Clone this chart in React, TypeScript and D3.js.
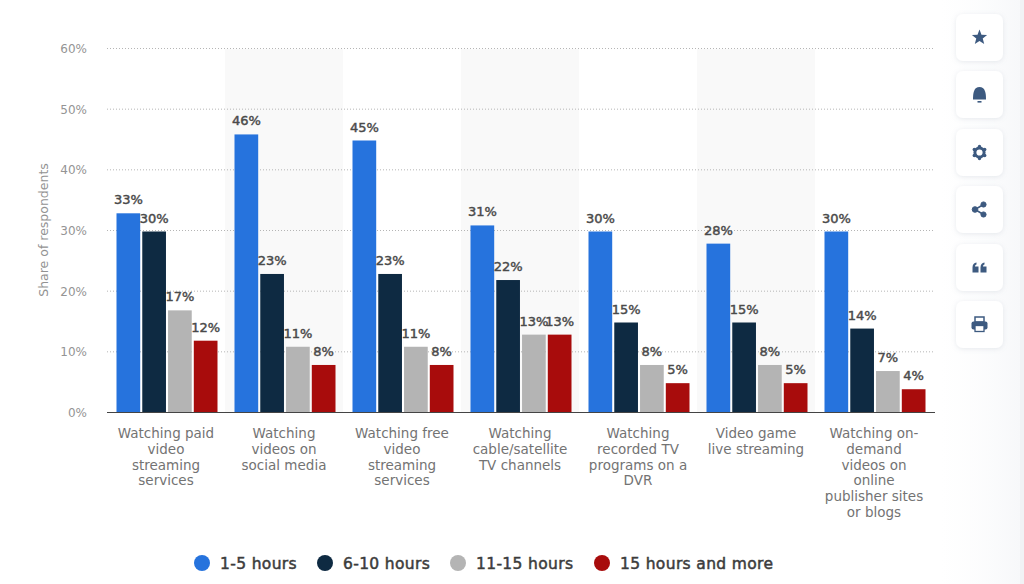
import React from "react";
import * as d3 from "d3";

const categories = [
  ["Watching paid", "video", "streaming", "services"],
  ["Watching", "videos on", "social media"],
  ["Watching free", "video", "streaming", "services"],
  ["Watching", "cable/satellite", "TV channels"],
  ["Watching", "recorded TV", "programs on a", "DVR"],
  ["Video game", "live streaming"],
  ["Watching on-", "demand", "videos on", "online", "publisher sites", "or blogs"],
];
const seriesNames = ["1-5 hours", "6-10 hours", "11-15 hours", "15 hours and more"];
const seriesColors = ["#2673dd", "#0e2a42", "#b4b4b4", "#a80c0c"];
const hours1to5 = [33, 46, 45, 31, 30, 28, 30];
const hours6to10 = [30, 23, 23, 22, 15, 15, 14];
const hours11to15 = [17, 11, 11, 13, 8, 8, 7];
const hours15plus = [12, 8, 8, 13, 5, 5, 4];
const seriesValues = [hours1to5, hours6to10, hours11to15, hours15plus];
const yTicks = [0, 10, 20, 30, 40, 50, 60];

const font = "'DejaVu Sans', Verdana, sans-serif";
const iconColor = "#3d5a80";

const x0 = d3.scaleBand<number>().domain(d3.range(7)).range([107, 933]);
const x1 = d3.scaleBand<number>().domain(d3.range(4)).range([9.5, 110.5]).paddingInner(0.08);
const y = d3.scaleLinear().domain([0, 60]).range([412.5, 48.5]);

const legendX = [202, 325, 458, 602];
const cardY = [14, 71, 129, 186, 244, 301];

function Icon({ i }: { i: number }) {
  if (i === 0) {
    const star = d3.range(10).map((k) => {
      const r = k % 2 ? 3.4 : 8;
      const a = (k * Math.PI) / 5 - Math.PI / 2;
      return [r * Math.cos(a), r * Math.sin(a)] as [number, number];
    });
    return <path d={d3.line()(star) + "Z"} fill={iconColor} />;
  }
  if (i === 1)
    return (
      <g fill={iconColor}>
        <path d="M-6.5 5 C-6.5 -2 -5.5 -7.5 0 -7.5 C5.5 -7.5 6.5 -2 6.5 5 Z" />
        <rect x={-2} y={6.5} width={4} height={1.6} />
      </g>
    );
  if (i === 2)
    return (
      <g>
        {d3.range(6).map((k) => (
          <circle key={k} cx={6 * Math.cos((k * Math.PI) / 3 + Math.PI / 2)} cy={6 * Math.sin((k * Math.PI) / 3 + Math.PI / 2)} r={1.7} fill={iconColor} />
        ))}
        <circle r={4.6} fill="none" stroke={iconColor} strokeWidth={3} />
      </g>
    );
  if (i === 3)
    return (
      <g fill={iconColor} stroke={iconColor}>
        <path d="M4 -5 L-4.5 0 L4 5" fill="none" strokeWidth={1.6} />
        <circle cx={4} cy={-5} r={2.6} />
        <circle cx={-4.5} cy={0} r={2.8} />
        <circle cx={4} cy={5} r={2.6} />
      </g>
    );
  if (i === 4)
    return (
      <g fill={iconColor}>
        <path d="M-7 5 V0 C-7 -3 -5.5 -4.5 -3 -5 V-3 C-4 -2.6 -4.5 -2 -4.5 -1 H-1 V5 Z" />
        <path d="M1 5 V0 C1 -3 2.5 -4.5 5 -5 V-3 C4 -2.6 3.5 -2 3.5 -1 H7 V5 Z" />
      </g>
    );
  return (
    <g>
      <rect x={-4.5} y={-7.5} width={9} height={5} fill="none" stroke={iconColor} strokeWidth={1.5} />
      <rect x={-8} y={-3} width={16} height={8} rx={2} fill={iconColor} />
      <rect x={-4.5} y={1} width={9} height={6} fill="#fff" stroke={iconColor} strokeWidth={1.3} />
    </g>
  );
}

export default function App() {
  return (
    <svg
      width={1024}
      height={584}
      style={{ position: "fixed", left: 0, top: 0, background: "#fff", fontFamily: font }}
    >
      <defs>
        <linearGradient id="panel" x1="0" x2="1" y1="0" y2="0">
          <stop offset="0" stopColor="#fbfcfd" stopOpacity={0} />
          <stop offset="1" stopColor="#f7f8fa" />
        </linearGradient>
        <filter id="cardShadow" x="-30%" y="-30%" width="160%" height="160%">
          <feDropShadow dx={0} dy={1} stdDeviation={2.5} floodColor="#8a97a8" floodOpacity={0.2} />
        </filter>
      </defs>

      <rect x={940} y={0} width={80} height={584} fill="url(#panel)" />
      <rect x={1020} y={0} width={4} height={584} fill="#f1f2f5" />

      {[1, 3, 5].map((i) => (
        <rect key={i} x={x0(i)!} y={49} width={x0.bandwidth()} height={363} fill="#f9f9f9" />
      ))}

      {yTicks.map((t) => (
        <g key={t}>
          {t > 0 && (
            <line x1={107} x2={935} y1={y(t)} y2={y(t)} stroke="#b5b5b5" strokeWidth={1} strokeDasharray="1 2" />
          )}
          <text x={87} y={y(t) + 4.5} textAnchor="end" fontSize={12} fill="#949494">
            {t}%
          </text>
        </g>
      ))}

      <text
        transform="translate(48,230) rotate(-90)"
        textAnchor="middle"
        fontSize={12.5}
        fill="#929292"
      >
        Share of respondents
      </text>

      {seriesValues.map((vals, s) =>
        vals.map((v, c) => {
          const bx = x0(c)! + x1(s)!;
          return (
            <g key={`${s}-${c}`}>
              <rect x={bx} y={y(v) + 1} width={x1.bandwidth()} height={y(0) - y(v) - 1} fill={seriesColors[s]} />
              <text
                x={bx + x1.bandwidth() / 2}
                y={y(v) - 8}
                textAnchor="middle"
                fontSize={13}
                fill="#4a4a4a"
                stroke="#4a4a4a"
                strokeWidth={0.45}
              >
                {v}%
              </text>
            </g>
          );
        })
      )}

      <line x1={107} x2={935} y1={412.5} y2={412.5} stroke="#444" strokeWidth={1} />

      {categories.map((lines, c) => (
        <text key={c} textAnchor="middle" fontSize={13.5} fill="#737373">
          {lines.map((l, k) => (
            <tspan key={k} x={x0(c)! + x0.bandwidth() / 2} y={438 + k * 15.8}>
              {l}
            </tspan>
          ))}
        </text>
      ))}

      {seriesNames.map((n, s) => (
        <g key={n}>
          <circle cx={legendX[s]} cy={563} r={8} fill={seriesColors[s]} />
          <text
            x={legendX[s] + 18}
            y={568.5}
            fontSize={15.5}
            letterSpacing={0.35}
            fill="#3c3c3c"
            stroke="#3c3c3c"
            strokeWidth={0.5}
          >
            {n}
          </text>
        </g>
      ))}

      {cardY.map((cy, i) => (
        <g key={i}>
          <rect x={956} y={cy} width={47} height={47} rx={7} fill="#fff" filter="url(#cardShadow)" />
          <g transform={`translate(979.5,${cy + 23.5})`}>
            <Icon i={i} />
          </g>
        </g>
      ))}
    </svg>
  );
}
